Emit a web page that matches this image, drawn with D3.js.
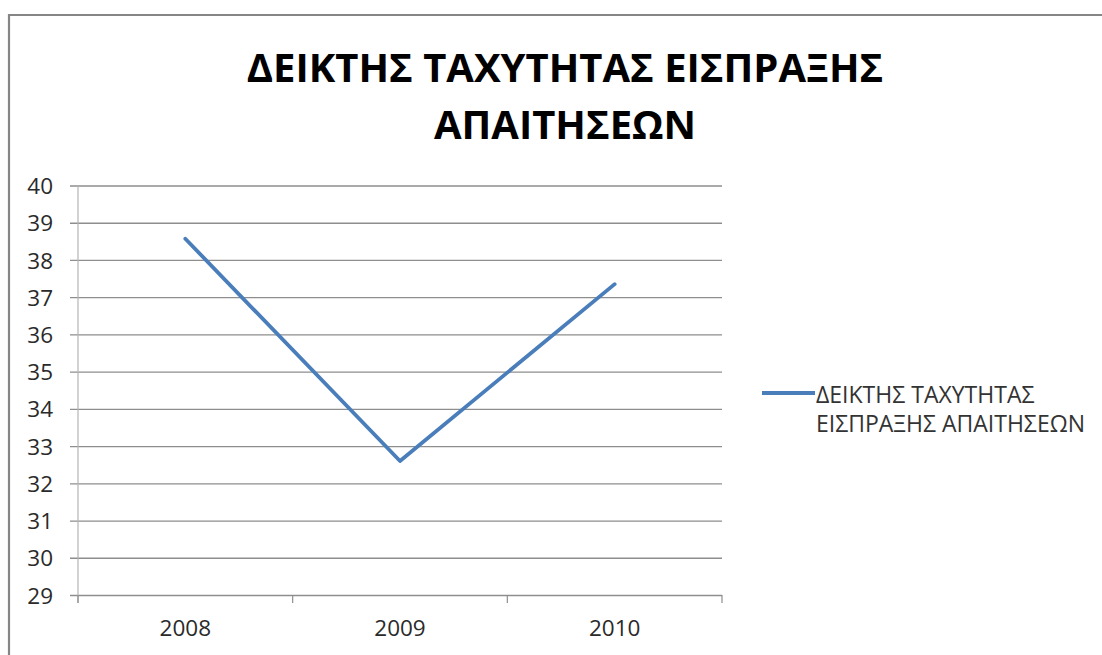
<!DOCTYPE html>
<html>
<head>
<meta charset="utf-8">
<script src="https://cdn.jsdelivr.net/npm/d3@7"></script>
<style>
  html, body { margin: 0; padding: 0; background: #fff; }
  svg { display: block; font-family: "Open Sans", "DejaVu Sans", sans-serif; }
</style>
</head>
<body>
<svg id="chart" width="1102" height="655"></svg>
<script>
// Receivables collection turnover ratio, per year
const categories = ["2008", "2009", "2010"];
const seriesValues = [38.57, 32.6, 37.35];
const seriesName = "ΔΕΙΚΤΗΣ ΤΑΧΥΤΗΤΑΣ ΕΙΣΠΡΑΞΗΣ ΑΠΑΙΤΗΣΕΩΝ";
const titleLines = ["ΔΕΙΚΤΗΣ ΤΑΧΥΤΗΤΑΣ ΕΙΣΠΡΑΞΗΣ", "ΑΠΑΙΤΗΣΕΩΝ"];
const legendLines = ["ΔΕΙΚΤΗΣ ΤΑΧΥΤΗΤΑΣ", "ΕΙΣΠΡΑΞΗΣ ΑΠΑΙΤΗΣΕΩΝ"];
const yTicks = [29, 30, 31, 32, 33, 34, 35, 36, 37, 38, 39, 40];

const svg = d3.select("#chart");

// Chart frame (left and top edges visible)
svg.append("path")
  .attr("d", "M9,700 L9,15 L1110,15")
  .attr("fill", "none")
  .attr("stroke", "#868686")
  .attr("stroke-width", 2.2);

// Title
svg.append("g")
  .selectAll("text")
  .data(titleLines)
  .join("text")
  .attr("x", 565)
  .attr("y", (d, i) => 82 + i * 57)
  .attr("text-anchor", "middle")
  .attr("font-size", 40)
  .attr("font-weight", "bold")
  .attr("fill", "#000")
  .text(d => d);

// Plot area
const plot = { left: 78, right: 722, top: 185.5, bottom: 595 };

const x = d3.scaleBand()
  .domain(categories)
  .range([plot.left, plot.right])
  .padding(0);

const y = d3.scaleLinear()
  .domain([29, 40])
  .range([plot.bottom, plot.top]);

// Value axis with horizontal gridlines
const yAxis = svg.append("g")
  .attr("transform", `translate(${plot.left - 8},0)`)
  .call(d3.axisLeft(y)
    .tickValues(yTicks)
    .tickSizeInner(-(plot.right - plot.left + 8))
    .tickSizeOuter(0)
    .tickPadding(17)
    .tickFormat(d3.format("d")));
yAxis.select(".domain").remove();
yAxis.selectAll(".tick line")
  .attr("stroke", "#8e8e8e")
  .attr("stroke-width", 1.3);
yAxis.selectAll(".tick text")
  .attr("font-family", "'Open Sans', sans-serif")
  .attr("font-size", 22.5)
  .attr("fill", "#2a2a2a")
  .attr("dy", "0.36em");

// Vertical value-axis line
svg.append("line")
  .attr("x1", plot.left).attr("x2", plot.left)
  .attr("y1", plot.top).attr("y2", plot.bottom + 8)
  .attr("stroke", "#b4b4b4")
  .attr("stroke-width", 1.2);

// Category axis: ticks at band edges, labels centred in bands
const edges = categories.map(c => x(c)).concat([x.range()[1]]);
svg.append("g")
  .selectAll("line")
  .data(edges)
  .join("line")
  .attr("x1", d => d).attr("x2", d => d)
  .attr("y1", plot.bottom).attr("y2", plot.bottom + 8)
  .attr("stroke", "#8e8e8e")
  .attr("stroke-width", 1.2);

const xAxis = svg.append("g")
  .attr("transform", `translate(0,${plot.bottom})`)
  .call(d3.axisBottom(x).tickSize(0).tickPadding(25));
xAxis.select(".domain").remove();
xAxis.selectAll(".tick text")
  .attr("font-family", "'Open Sans', sans-serif")
  .attr("font-size", 22.5)
  .attr("fill", "#2a2a2a");

// Series line
const line = d3.line()
  .x((d, i) => x(categories[i]) + x.bandwidth() / 2)
  .y(d => y(d));

svg.append("path")
  .datum(seriesValues)
  .attr("d", line)
  .attr("fill", "none")
  .attr("stroke", "#4a7ebb")
  .attr("stroke-width", 3.8)
  .attr("stroke-linejoin", "round")
  .attr("stroke-linecap", "round");

// Legend
const legend = svg.append("g").attr("aria-label", seriesName);
legend.append("line")
  .attr("x1", 762).attr("x2", 815)
  .attr("y1", 393).attr("y2", 393)
  .attr("stroke", "#4a7ebb")
  .attr("stroke-width", 3.8);
legend.selectAll("text")
  .data(legendLines)
  .join("text")
  .attr("x", 816)
  .attr("y", (d, i) => 403 + i * 29)
  .attr("font-family", "'Open Sans', sans-serif")
  .attr("font-size", 23)
  .attr("fill", "#333")
  .text(d => d);
</script>
</body>
</html>
